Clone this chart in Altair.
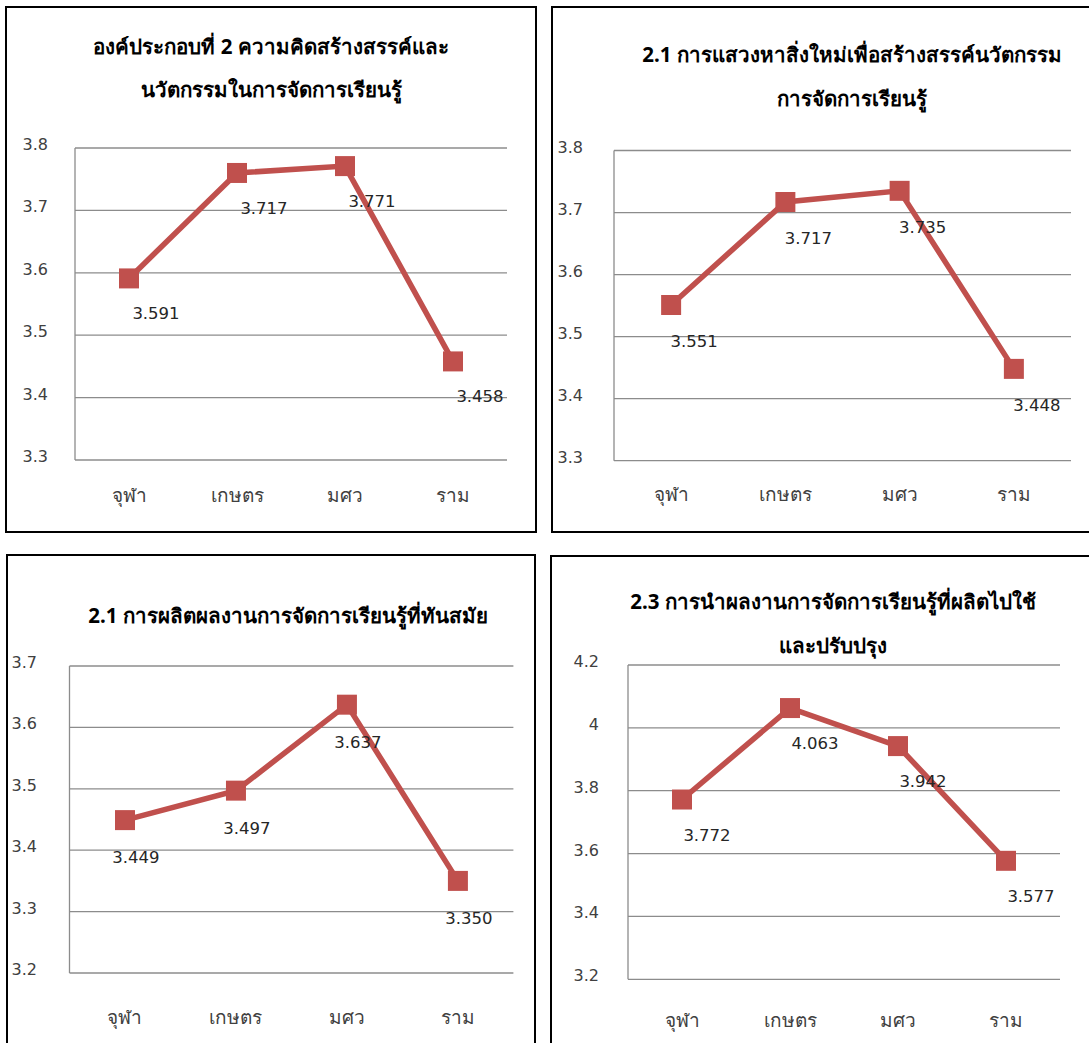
import altair as alt
import pandas as pd

# ---------------- data ----------------
categories = ["จุฬา", "เกษตร", "มศว", "ราม"]

titles = [
    ["องค์ประกอบที่ 2 ความคิดสร้างสรรค์และ", "นวัตกรรมในการจัดการเรียนรู้"],
    ["2.1 การแสวงหาสิ่งใหม่เพื่อสร้างสรรค์นวัตกรรม", "การจัดการเรียนรู้"],
    ["2.1 การผลิตผลงานการจัดการเรียนรู้ที่ทันสมัย"],
    ["2.3 การนำผลงานการจัดการเรียนรู้ที่ผลิตไปใช้", "และปรับปรุง"],
]

values_p1 = [3.591, 3.760, 3.771, 3.458]
values_p2 = [3.551, 3.717, 3.735, 3.448]
values_p3 = [3.449, 3.497, 3.637, 3.350]
values_p4 = [3.772, 4.063, 3.942, 3.577]

labels_p1 = ["3.591", "3.717", "3.771", "3.458"]
labels_p2 = ["3.551", "3.717", "3.735", "3.448"]
labels_p3 = ["3.449", "3.497", "3.637", "3.350"]
labels_p4 = ["3.772", "4.063", "3.942", "3.577"]

ticks_p1 = [3.3, 3.4, 3.5, 3.6, 3.7, 3.8]
ticks_p2 = [3.3, 3.4, 3.5, 3.6, 3.7, 3.8]
ticks_p3 = [3.2, 3.3, 3.4, 3.5, 3.6, 3.7]
ticks_p4 = [3.2, 3.4, 3.6, 3.8, 4.0, 4.2]

tick_labels_p1 = ["3.3", "3.4", "3.5", "3.6", "3.7", "3.8"]
tick_labels_p2 = ["3.3", "3.4", "3.5", "3.6", "3.7", "3.8"]
tick_labels_p3 = ["3.2", "3.3", "3.4", "3.5", "3.6", "3.7"]
tick_labels_p4 = ["3.2", "3.4", "3.6", "3.8", "4", "4.2"]

series = [
    (values_p1, labels_p1, ticks_p1, tick_labels_p1),
    (values_p2, labels_p2, ticks_p2, tick_labels_p2),
    (values_p3, labels_p3, ticks_p3, tick_labels_p3),
    (values_p4, labels_p4, ticks_p4, tick_labels_p4),
]

# ---------------- layout (pixels) ----------------
layouts = [
    dict(box=(6, 7, 536, 532), px=(75, 507), py=(460, 148), tick_r=48, xlab_y=496,
         title_x=271, title_y=[48, 91], dx=27, dy=36),
    dict(box=(552, 7, 1100, 532), px=(614, 1071), py=(460.7, 150.5), tick_r=583, xlab_y=495,
         title_x=852, title_y=[56, 100], dx=23, dy=37),
    dict(box=(7, 555, 535, 1070), px=(69.5, 513.4), py=(973, 666), tick_r=37, xlab_y=1018,
         title_x=288, title_y=[617], dx=11, dy=38),
    dict(box=(551, 556, 1100, 1070), px=(628, 1060), py=(979.3, 665), tick_r=599, xlab_y=1021,
         title_x=833, title_y=[603, 647], dx=25, dy=36),
]

NUM_FONT = "'DejaVu Sans', Tahoma, sans-serif"
THAI_FONT = "Tahoma, 'Leelawadee UI', 'Noto Sans', 'DejaVu Sans', sans-serif"
RED = "#C0504D"
GRID = "#8c8c8c"
TXT = "#404040"


def panel(i):
    vals, labs, ticks, tlabs = series[i]
    L = layouts[i]
    x0, x1 = L["px"]
    yb, yt = L["py"]
    xs = alt.Scale(type="point", domain=categories, range=[x0, x1], padding=0.5)
    ys = alt.Scale(domain=[ticks[0], ticks[-1]], range=[yb, yt], nice=False, zero=False)

    df = pd.DataFrame({"cat": categories, "v": vals, "lab": labs})
    tdf = pd.DataFrame({"t": ticks, "tl": tlabs})
    X = alt.X("cat:N", scale=xs, axis=None)
    Y = alt.Y("v:Q", scale=ys, axis=None)

    bx0, by0, bx1, by1 = L["box"]
    border = alt.Chart(pd.DataFrame({"k": [0]})).mark_rect(
        fill="white", fillOpacity=0, stroke="black", strokeWidth=2
    ).encode(x=alt.value(bx0), x2=alt.value(bx1), y=alt.value(by0), y2=alt.value(by1))

    grid = alt.Chart(tdf).mark_rule(color=GRID, strokeWidth=1.3).encode(
        y=alt.Y("t:Q", scale=ys, axis=None), x=alt.value(x0), x2=alt.value(x1)
    )
    vline = alt.Chart(pd.DataFrame({"k": [0]})).mark_rule(color=GRID, strokeWidth=1.3).encode(
        x=alt.value(x0),
        y=alt.datum(ticks[0], scale=ys, axis=None),
        y2=alt.datum(ticks[-1]),
    )
    tick_text = alt.Chart(tdf).mark_text(
        align="right", baseline="middle", font=NUM_FONT, fontSize=16, color=TXT, dy=-3
    ).encode(y=alt.Y("t:Q", scale=ys, axis=None), x=alt.value(L["tick_r"]), text="tl:N")

    line = alt.Chart(df).mark_line(color=RED, strokeWidth=5.5).encode(x=X, y=Y)
    pts = alt.Chart(df).mark_point(
        shape="square", filled=True, size=400, color=RED, opacity=1
    ).encode(x=X, y=Y)
    vlab = alt.Chart(df).mark_text(
        align="center", baseline="middle", font=NUM_FONT, fontSize=16.5, color="#262626",
        dx=L["dx"], dy=L["dy"]
    ).encode(x=X, y=Y, text="lab:N")

    xlab = alt.Chart(df).mark_text(
        align="center", baseline="middle", font=THAI_FONT, fontSize=19, color=TXT
    ).encode(x=X, y=alt.value(L["xlab_y"]), text="cat:N")

    layers = [border, grid, vline, line, pts, vlab, tick_text, xlab]
    for line_txt, ty in zip(titles[i], L["title_y"]):
        layers.append(
            alt.Chart(pd.DataFrame({"t": [line_txt]})).mark_text(
                align="center", baseline="middle", font=THAI_FONT, fontSize=20.5,
                fontWeight="bold", color="black"
            ).encode(x=alt.value(L["title_x"]), y=alt.value(ty), text="t:N")
        )
    return alt.layer(*layers)


chart = (
    alt.layer(*[panel(i) for i in range(4)])
    .resolve_scale(x="independent", y="independent")
    .properties(width=1089, height=1043, autosize=alt.AutoSizeParams(type="none"), padding=0,
                background="white")
    .configure_view(stroke=None)
)

chart.save("out.html", embed_options={"renderer": "svg", "actions": False})
